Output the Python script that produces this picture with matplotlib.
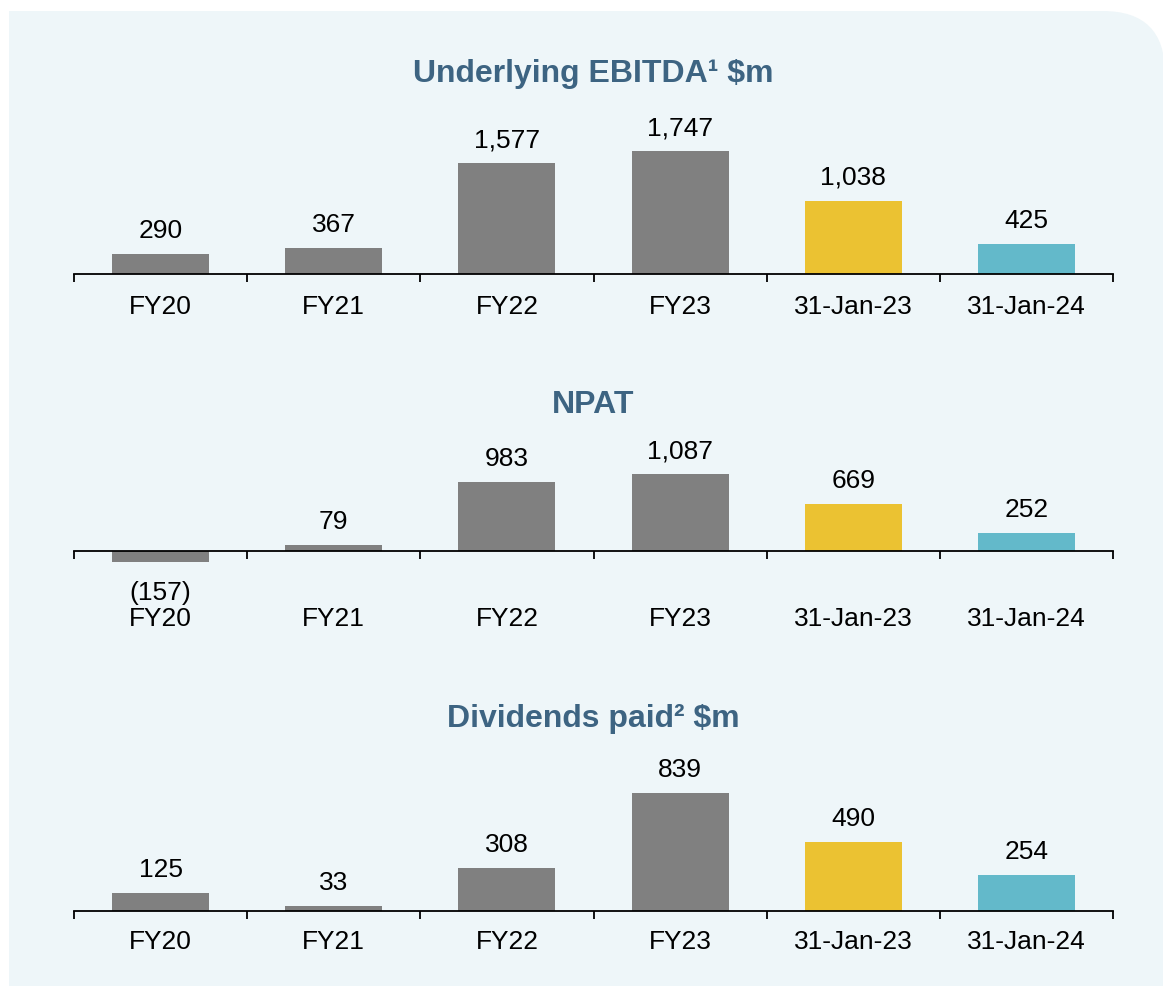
import matplotlib.pyplot as plt
from matplotlib.patches import FancyBboxPatch, Rectangle
from matplotlib.transforms import IdentityTransform

# data
categories = ['FY20', 'FY21', 'FY22', 'FY23', '31-Jan-23', '31-Jan-24']
ebitda = [290, 367, 1577, 1747, 1038, 425]
npat = [-157, 79, 983, 1087, 669, 252]
dividends = [125, 33, 308, 839, 490, 254]
titles = ['Underlying EBITDA\u00b9 $m', 'NPAT', 'Dividends paid\u00b2 $m']

bar_colors = ['#808080', '#808080', '#808080', '#808080', '#EBC232', '#63B9CA']
title_color = '#3D6482'
bg_color = '#EEF6F9'

plt.rcParams['font.family'] = ['Liberation Sans', 'DejaVu Sans']

W, H = 1163, 986
fig = plt.figure(figsize=(W / 100, H / 100), dpi=100)
fig.patch.set_facecolor('white')

# light blue panel, only the top-right corner is rounded (pixel coords)
top = H - 11
panel = FancyBboxPatch((9, -100), W + 2 - 9, top + 100,
                       boxstyle='round,pad=0,rounding_size=62',
                       transform=IdentityTransform(), facecolor=bg_color,
                       edgecolor='none', zorder=-2)
fig.patches.append(panel)
fig.patches.append(Rectangle((9, -100), 200, top + 100, transform=IdentityTransform(),
                             facecolor=bg_color, edgecolor='none', zorder=-2))

def fmt(v):
    return '({:,})'.format(-v) if v < 0 else '{:,}'.format(v)

# (values, baseline px from top, ylim, label pad, title y px)
panels = [
    (ebitda, 274, (0, 2000), 15, 74),
    (npat, 551, (-300, 1500), 40, 405),
    (dividends, 911, (0, 1000), 14, 719),
]

x0, x1 = 74 / W, 1113 / W
px_per_unit = [0.0704, 0.0704, 0.1406]

for i, (vals, base, ylim, pad, ty) in enumerate(panels):
    s = px_per_unit[i]
    bottom_px = H - base + ylim[0] * s
    height_px = (ylim[1] - ylim[0]) * s
    ax = fig.add_axes([x0, bottom_px / H, x1 - x0, height_px / H])
    ax.set_facecolor('none')
    ax.bar(range(6), vals, width=0.56, color=bar_colors, zorder=2)
    ax.set_xlim(-0.5, 5.5)
    ax.set_ylim(*ylim)
    for sp in ['top', 'right', 'left']:
        ax.spines[sp].set_visible(False)
    ax.spines['bottom'].set_position(('data', 0))
    ax.spines['bottom'].set_linewidth(1.3)
    ax.spines['bottom'].set_zorder(3)
    ax.set_yticks([])
    ax.set_xticks([k - 0.5 for k in range(7)])
    ax.set_xticklabels([])
    ax.tick_params(axis='x', which='major', direction='out', length=6, width=1.3)
    ax.set_xticks(range(6), minor=True)
    ax.set_xticklabels(categories, minor=True, fontsize=19)
    ax.tick_params(axis='x', which='minor', length=0, pad=pad)

    for k, v in enumerate(vals):
        if v >= 0:
            ax.annotate(fmt(v), (k, v), xytext=(0, 11.5), textcoords='offset points',
                        ha='center', va='baseline', fontsize=19)
        else:
            ax.annotate(fmt(v), (k, v), xytext=(0, -27), textcoords='offset points',
                        ha='center', va='baseline', fontsize=19)

    fig.text(593 / W, 1 - ty / H, titles[i], ha='center', va='center',
             fontsize=23, fontweight='bold', color=title_color)

fig.savefig('out.png', dpi=100, facecolor=fig.get_facecolor())
